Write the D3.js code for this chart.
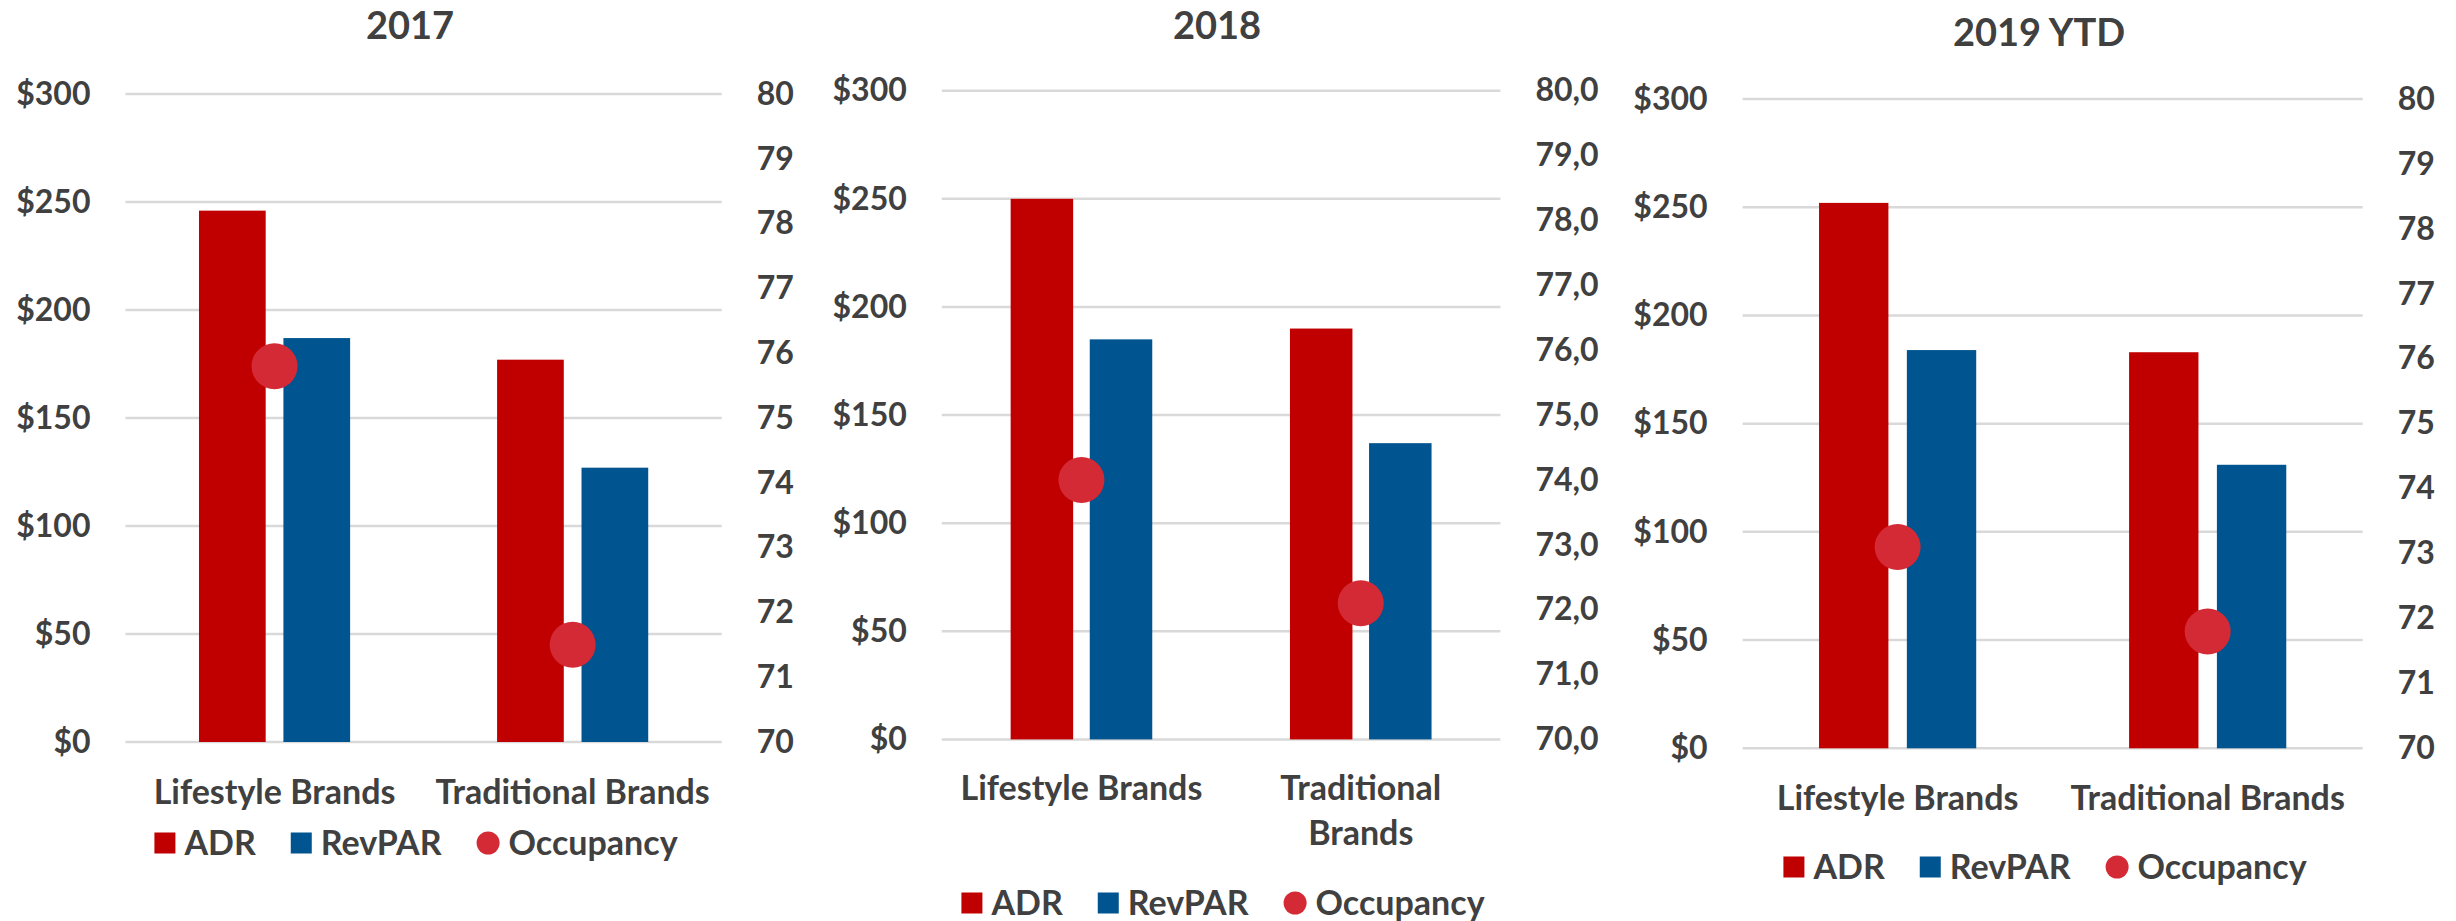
<!doctype html>
<html>
<head>
<meta charset="utf-8">
<title>ADR, RevPAR and Occupancy</title>
<script src="https://cdn.jsdelivr.net/npm/d3@7"></script>
<style>
  body { margin: 0; background: #fff; }
  text { font-family: Lato, "Open Sans", sans-serif; font-weight: bold; fill: #404040; }
</style>
</head>
<body>
<script>

// DATA
var years = ["2017", "2018", "2019 YTD"];
var categories = ["Lifestyle Brands", "Traditional Brands"];
var seriesNames = ["ADR", "RevPAR", "Occupancy"];
var adr = [[246, 177], [250, 190], [252, 183]];
var revpar = [[187, 127], [185, 137], [184, 131]];
var occupancy = [[75.8, 71.5], [74.0, 72.1], [73.1, 71.8]];
var dollarTicks = [0, 50, 100, 150, 200, 250, 300];
var occTicks = [70, 71, 72, 73, 74, 75, 76, 77, 78, 79, 80];
var occFormats = ["d", ",.1f", "d"];

var colors = { ADR: "#C00000", RevPAR: "#00548F", Occupancy: "#D42A35" };

// layout of each panel (pixels)
var panels = [
  { cx: 410,  titleY: 25, left: 125.5, right: 721.7,  top: 94,   bottom: 742,   catY: 792, wrap: false, legendY: 843 },
  { cx: 1217, titleY: 25, left: 941.8, right: 1500.4, top: 90.7, bottom: 739.4, catY: 788, wrap: true,  legendY: 903 },
  { cx: 2039, titleY: 32, left: 1742.6, right: 2362.7, top: 99,  bottom: 748.3, catY: 798, wrap: false, legendY: 867 }
];

var W = 2456, H = 921;
var svg = d3.select("body").append("svg").attr("width", W).attr("height", H);

panels.forEach(function(p, i) {
  var g = svg.append("g");

  var y = d3.scaleLinear().domain([0, 300]).range([p.bottom, p.top]);
  var y2 = d3.scaleLinear().domain([70, 80]).range([p.bottom, p.top]);
  var x0 = d3.scaleBand().domain(categories).range([p.left, p.right])
    .paddingInner(0.493).paddingOuter(0.2465);
  var x1 = d3.scaleBand().domain(["ADR", "RevPAR"]).range([0, x0.bandwidth()])
    .paddingInner(0.21);

  // title
  g.append("text").text(years[i])
    .attr("x", p.cx).attr("y", p.titleY).attr("dy", "0.36em")
    .attr("text-anchor", "middle").style("font-size", "38px");

  // gridlines
  g.append("g").selectAll("line").data(dollarTicks).enter().append("line")
    .attr("x1", p.left).attr("x2", p.right)
    .attr("y1", function(d) { return y(d); }).attr("y2", function(d) { return y(d); })
    .attr("stroke", "#D9D9D9").attr("stroke-width", 2.5);

  // left axis
  var ax = g.append("g").attr("transform", "translate(" + p.left + ",0)")
    .call(d3.axisLeft(y).tickValues(dollarTicks).tickSize(0).tickPadding(35)
      .tickFormat(function(d) { return "$" + d; }));
  // right axis
  var fmt = d3.format(occFormats[i]);
  var ax2 = g.append("g").attr("transform", "translate(" + p.right + ",0)")
    .call(d3.axisRight(y2).tickValues(occTicks).tickSize(0).tickPadding(35)
      .tickFormat(function(d) { return fmt(d).replace(".", ","); }));
  [ax, ax2].forEach(function(a) {
    a.select(".domain").remove();
    a.selectAll("text").attr("font-family", null).attr("fill", null).style("font-size", "32px");
  });

  // bars
  var rows = categories.map(function(c, j) {
    return { cat: c, ADR: adr[i][j], RevPAR: revpar[i][j], occ: occupancy[i][j] };
  });
  g.append("g").selectAll("g").data(rows).enter().append("g")
    .attr("transform", function(d) { return "translate(" + x0(d.cat) + ",0)"; })
    .selectAll("rect")
    .data(function(d) { return ["ADR", "RevPAR"].map(function(k) { return { key: k, value: d[k] }; }); })
    .enter().append("rect")
    .attr("x", function(d) { return x1(d.key); })
    .attr("width", x1.bandwidth())
    .attr("y", function(d) { return y(d.value); })
    .attr("height", function(d) { return y(0) - y(d.value); })
    .attr("fill", function(d) { return colors[d.key]; });

  // occupancy dots
  g.append("g").selectAll("circle").data(rows).enter().append("circle")
    .attr("cx", function(d) { return x0(d.cat) + x0.bandwidth() / 2; })
    .attr("cy", function(d) { return y2(d.occ); })
    .attr("r", 23)
    .attr("fill", colors.Occupancy);

  // category labels
  var cl = g.append("g").selectAll("text").data(categories).enter().append("text")
    .attr("x", function(d) { return x0(d) + x0.bandwidth() / 2; })
    .attr("y", p.catY)
    .attr("text-anchor", "middle").style("font-size", "34px");
  cl.each(function(d) {
    var t = d3.select(this);
    var words = p.wrap && d.indexOf("Traditional") === 0 ? d.split(" ") : [d];
    words.forEach(function(w, k) {
      t.append("tspan").attr("x", t.attr("x")).attr("dy", k === 0 ? "0.36em" : "45px").text(w);
    });
  });

  // legend
  var lg = g.append("g");
  var xpos = 0;
  seriesNames.forEach(function(s) {
    var item = lg.append("g").attr("transform", "translate(" + xpos + "," + p.legendY + ")");
    if (s === "Occupancy") {
      item.append("circle").attr("cx", 11.5).attr("cy", 0).attr("r", 11.5).attr("fill", colors[s]);
    } else {
      item.append("rect").attr("x", 0).attr("y", -10.5).attr("width", 21).attr("height", 21).attr("fill", colors[s]);
    }
    var t = item.append("text").text(s).attr("x", s === "Occupancy" ? 32 : 30).attr("dy", "0.36em")
      .style("font-size", "34px");
    xpos += (s === "Occupancy" ? 32 : 30) + t.node().getComputedTextLength() + 35;
  });
  var lw = xpos - 35;
  lg.attr("transform", "translate(" + (p.cx + 6 - lw / 2) + ",0)");
});

</script>
</body>
</html>
